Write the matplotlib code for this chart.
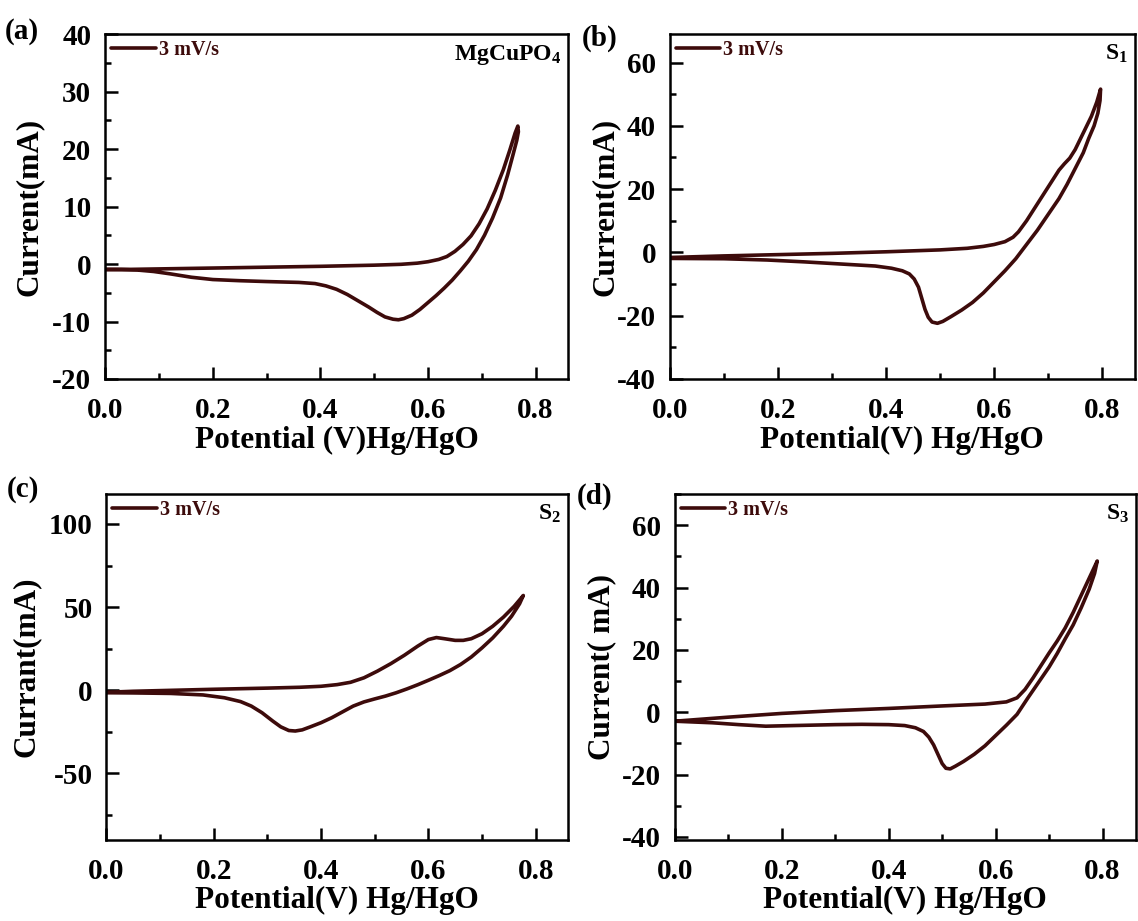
import matplotlib
matplotlib.use("Agg")
import matplotlib.pyplot as plt
from matplotlib.ticker import MultipleLocator

plt.rcParams['font.family'] = ['Liberation Serif', 'DejaVu Serif']
plt.rcParams['font.weight'] = 'bold'
plt.rcParams['axes.unicode_minus'] = False
plt.rcParams['mathtext.fontset'] = 'custom'
plt.rcParams['mathtext.rm'] = 'Liberation Serif:bold'
plt.rcParams['mathtext.it'] = 'Liberation Serif:bold'
plt.rcParams['mathtext.bf'] = 'Liberation Serif:bold'

LINE = '#3d0b0b'

# Panel (a) MgCuPO4 : anodic sweep then cathodic sweep
a_v = [0.0, 0.1, 0.2, 0.3, 0.4, 0.5, 0.55, 0.58, 0.60, 0.62, 0.635, 0.65, 0.665, 0.68, 0.695,
       0.71, 0.725, 0.74, 0.752, 0.762, 0.767,
       0.768, 0.765, 0.758, 0.748, 0.735, 0.72, 0.705, 0.69, 0.675, 0.66, 0.645, 0.63, 0.615,
       0.60, 0.585, 0.57, 0.555, 0.545, 0.535, 0.52, 0.505, 0.49, 0.47, 0.45, 0.43, 0.41,
       0.39, 0.36, 0.30, 0.25, 0.2, 0.16, 0.12, 0.09, 0.06, 0.03, 0.0]
a_i = [-1.0, -0.85, -0.7, -0.55, -0.4, -0.2, -0.05, 0.15, 0.4, 0.8, 1.3, 2.2, 3.4, 4.9, 7.0,
       9.6, 12.8, 16.4, 19.8, 22.8, 24.0,
       23.0, 21.5, 19.0, 15.5, 11.5, 8.0, 5.0, 2.5, 0.5, -1.2, -2.8, -4.2, -5.5,
       -6.7, -7.9, -8.9, -9.5, -9.7, -9.6, -9.2, -8.4, -7.5, -6.4, -5.3, -4.4, -3.8,
       -3.4, -3.2, -3.05, -2.9, -2.7, -2.3, -1.7, -1.3, -1.05, -0.95, -0.9]

# Panel (b) S1
b_v = [0.0, 0.1, 0.2, 0.3, 0.4, 0.5, 0.55, 0.58, 0.60, 0.62, 0.635, 0.645, 0.66, 0.675, 0.69,
       0.705, 0.72, 0.73, 0.74, 0.75, 0.76, 0.77, 0.78, 0.79, 0.797,
       0.796, 0.792, 0.785, 0.775, 0.765, 0.75, 0.735, 0.72, 0.70, 0.68, 0.66, 0.64, 0.62,
       0.60, 0.58, 0.56, 0.54, 0.52, 0.505, 0.495, 0.485, 0.478, 0.472, 0.466, 0.46, 0.452,
       0.443, 0.43, 0.41, 0.38, 0.33, 0.25, 0.18, 0.1, 0.0]
b_i = [-1.6, -1.1, -0.7, -0.3, 0.2, 0.8, 1.3, 1.9, 2.5, 3.4, 4.8, 6.5, 10.0, 14.0, 18.0,
       22.0, 26.0, 28.0, 29.8, 32.5, 36.0, 39.5, 43.0, 47.5, 51.6,
       48.0, 44.0, 40.0, 36.0, 31.5, 26.5, 21.5, 17.0, 12.0, 7.0, 2.5, -2.0, -5.8,
       -9.3, -12.8, -15.8, -18.2, -20.3, -21.8, -22.4, -22.0, -20.5, -18.0, -14.5, -11.0, -8.4,
       -6.8, -5.8, -5.0, -4.3, -3.8, -3.0, -2.4, -2.0, -1.9]

# Panel (c) S2
c_v = [0.0, 0.05, 0.1, 0.2, 0.3, 0.36, 0.40, 0.43, 0.455, 0.48, 0.505, 0.53, 0.555, 0.58,
       0.60, 0.615, 0.63, 0.65, 0.665, 0.68, 0.70, 0.72, 0.74, 0.76, 0.777,
       0.77, 0.755, 0.74, 0.72, 0.70, 0.68, 0.66, 0.64, 0.62, 0.60, 0.58, 0.56, 0.54, 0.52,
       0.50, 0.48, 0.46, 0.44, 0.42, 0.40, 0.38, 0.365, 0.352, 0.34, 0.325, 0.31, 0.29,
       0.27, 0.25, 0.22, 0.18, 0.12, 0.05, 0.0]
c_i = [-1.2, -0.6, -0.2, 0.6, 1.3, 1.8, 2.4, 3.4, 4.8, 7.5, 11.5, 16.0, 21.0, 26.5,
       30.5, 31.7, 31.0, 30.0, 30.0, 31.0, 34.0, 38.5, 44.0, 50.5, 57.0,
       52.0, 44.5, 38.5, 31.5, 25.5, 20.0, 15.5, 11.8, 8.8, 6.0, 3.3, 0.8, -1.5, -3.5,
       -5.2, -7.0, -9.5, -13.0, -16.5, -19.5, -22.0, -23.8, -24.5, -24.2, -22.0, -18.5, -13.5,
       -9.5, -6.8, -4.5, -2.8, -1.9, -1.6, -1.5]

# Panel (d) S3
d_v = [0.0, 0.1, 0.2, 0.3, 0.4, 0.5, 0.58, 0.62, 0.64, 0.655, 0.67, 0.685, 0.70, 0.715,
       0.73, 0.745, 0.76, 0.775, 0.79,
       0.785, 0.775, 0.76, 0.745, 0.73, 0.715, 0.70, 0.68, 0.66, 0.64, 0.62, 0.60, 0.58,
       0.56, 0.54, 0.525, 0.515, 0.507, 0.50, 0.492, 0.484, 0.475, 0.465, 0.45, 0.43, 0.40,
       0.35, 0.30, 0.22, 0.17, 0.12, 0.07, 0.0]
d_i = [-2.9, -1.6, -0.4, 0.5, 1.2, 2.0, 2.6, 3.3, 4.6, 7.3, 11.0, 15.0, 19.0, 22.8,
       27.0, 32.0, 37.5, 43.0, 48.5,
       44.5, 39.5, 33.5, 28.0, 23.5, 18.8, 14.5, 9.5, 4.5, -0.7, -4.2, -7.5, -10.8,
       -13.5, -15.8, -17.3, -18.2, -18.0, -16.5, -13.5, -10.5, -8.0, -6.2, -5.0, -4.3, -4.0,
       -3.9, -4.0, -4.3, -4.5, -4.0, -3.4, -2.9]

panels = [
    dict(v=a_v, i=a_i, pos=[0.0925, 0.5885, 0.4065, 0.3745], ylim=(-20, 40), major=10, minor=5,
         ylabel='Current(mA)', xlabel='Potential (V)Hg/HgO', tag='MgCuPO$_4$', letter='(a)',
         letter_xy=(0.004, 0.966), xlim=(0, 0.86), ypad=6),
    dict(v=b_v, i=b_i, pos=[0.5888, 0.5885, 0.4082, 0.3745], ylim=(-40, 69), major=20, minor=10,
         ylabel='Current(mA)', xlabel='Potential(V) Hg/HgO', tag='S$_1$', letter='(b)',
         letter_xy=(0.511, 0.958), xlim=(0, 0.86), ypad=-2),
    dict(v=c_v, i=c_i, pos=[0.0935, 0.088, 0.4055, 0.3756], ylim=(-90, 118), major=50, minor=25,
         ylabel='Currant(mA)', xlabel='Potential(V) Hg/HgO', tag='S$_2$', letter='(c)',
         letter_xy=(0.006, 0.468), xlim=(0, 0.86), ypad=6),
    dict(v=d_v, i=d_i, pos=[0.593, 0.088, 0.405, 0.3756], ylim=(-41, 70), major=20, minor=10,
         ylabel='Current( mA)', xlabel='Potential(V) Hg/HgO', tag='S$_3$', letter='(d)',
         letter_xy=(0.507, 0.461), xlim=(0, 0.862), ypad=4),
]

fig = plt.figure(figsize=(11.38, 9.21), dpi=100)

for p in panels:
    ax = fig.add_axes(p['pos'])
    ax.plot(p['v'], p['i'], color=LINE, lw=2.6, solid_joinstyle='round',
            solid_capstyle='round', label='3 mV/s')
    ax.set_xlim(*p['xlim'])
    ax.set_ylim(*p['ylim'])
    ax.xaxis.set_major_locator(MultipleLocator(0.2))
    ax.xaxis.set_minor_locator(MultipleLocator(0.1))
    ax.yaxis.set_major_locator(MultipleLocator(p['major']))
    ax.yaxis.set_minor_locator(MultipleLocator(p['minor']))
    ax.tick_params(which='both', direction='in', top=False, right=False, width=1.8,
                   labelsize=21)
    ax.tick_params(axis='x', which='both', pad=13)
    ax.tick_params(axis='y', which='both', pad=10)
    ax.tick_params(which='major', length=9)
    ax.tick_params(which='minor', length=4.5)
    for lab in ax.get_xticklabels() + ax.get_yticklabels():
        lab.set_fontweight('bold')
    for s in ax.spines.values():
        s.set_linewidth(1.8)
    ax.set_xlabel(p['xlabel'], fontsize=22.5, fontweight='bold', labelpad=1)
    ax.set_ylabel(p['ylabel'], fontsize=22.5, fontweight='bold', labelpad=p['ypad'])
    leg = ax.legend(loc='upper left', frameon=False, fontsize=14.5, handlelength=2.2,
                    handletextpad=0.15, borderaxespad=0.15, borderpad=0.15)
    for t in leg.get_texts():
        t.set_color(LINE)
        t.set_fontweight('bold')
    ax.text(0.985, 0.975, p['tag'], transform=ax.transAxes, ha='right', va='top',
            fontsize=17, fontweight='bold')
    fig.text(p['letter_xy'][0], p['letter_xy'][1], p['letter'], fontsize=21,
             fontweight='bold', ha='left', va='center')

fig.savefig('out.png', dpi=100)
